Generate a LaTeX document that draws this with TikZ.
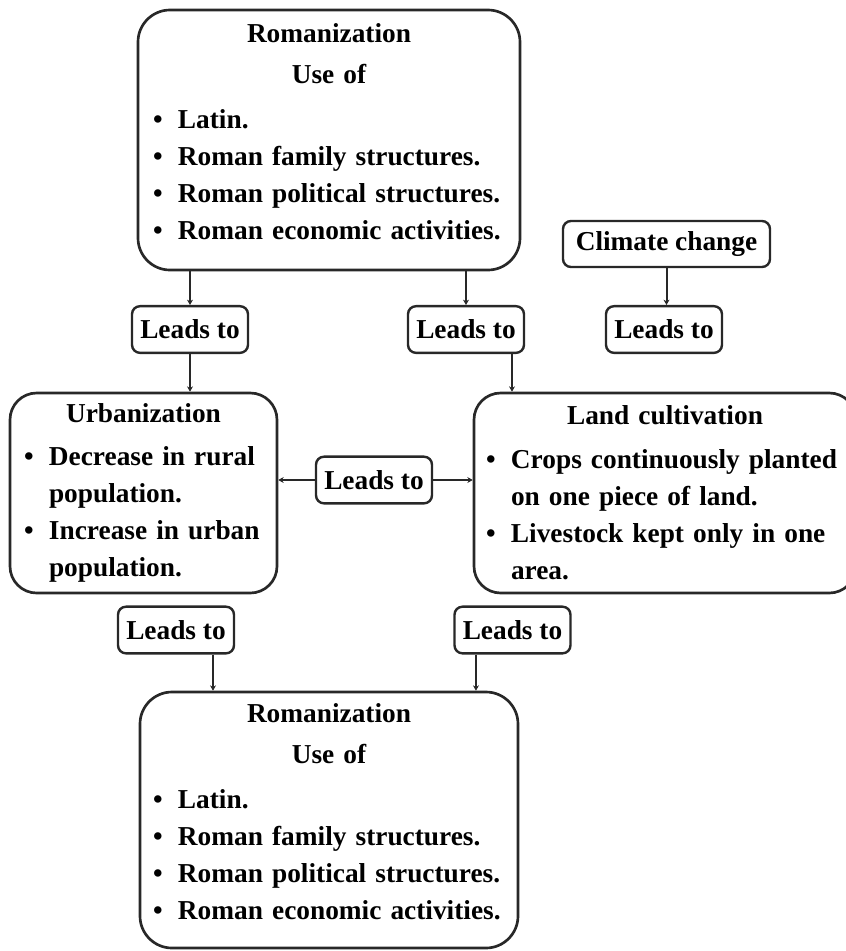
\documentclass[tikz,border=0pt]{standalone}
\usepackage{fontspec}
\setmainfont{Liberation Serif}
\usepackage{xcolor}
\usepackage{tikz}
\usetikzlibrary{arrows.meta,calc}
\definecolor{darkline}{RGB}{40,40,40}
\newcommand{\bul}{\par\noindent\hangindent=18.75pt\hangafter=1\makebox[18.75pt][l]{\textbullet}}
\newcommand{\padbot}[1]{\par\nointerlineskip\vspace{#1}\hbox{}}

\begin{document}
\begin{tikzpicture}[x=0.75pt, y=-0.75pt,
  every node/.style={font=\bfseries\fontsize{20.5}{27.75}\selectfont, text=black},
  bigbox/.style={draw=darkline, line width=2pt, rounded corners=24pt, inner ysep=0pt},
  leadbox/.style={draw=darkline, line width=1.8pt, rounded corners=6pt, inner sep=0pt, minimum width=87pt, minimum height=35pt},
  arr/.style={draw=darkline, line width=1.5pt, -{Stealth[length=4pt,width=4.5pt]}}]
  \useasboundingbox (0,0) rectangle (846,951);
  % boxes
  \node[bigbox, minimum width=286.5pt, minimum height=195pt, text width=264pt, inner xsep=11.25pt] (rom1) at (329,140)
    {\raggedright{\centering Romanization\\[3pt] Use of\par}\vspace{6pt}
     \bul Latin.
     \bul Roman family structures.
     \bul Roman political structures.
     \bul Roman economic activities.
     \padbot{12.75pt}};
  \node[leadbox] (lt1) at (190,329.5) {Leads to};
  \node[leadbox] (lt2) at (466,329.5) {Leads to};
  \node[leadbox, minimum width=155.25pt, minimum height=34.5pt] (clim) at (666.5,244) {Climate change};
  \node[leadbox] (lt3) at (664,329.5) {Leads to};
  \node[bigbox, rounded corners=20pt, minimum width=200.25pt, minimum height=150pt, text width=179.25pt, inner xsep=10.5pt] (urb) at (143.5,493)
    {\raggedright{\centering Urbanization\par}\vspace{5pt}
     \bul Decrease in rural\newline population.
     \bul Increase in urban\newline population.\par};
  \node[bigbox, rounded corners=20pt, minimum width=286.5pt, minimum height=150pt, text width=268.5pt, inner xsep=9pt] (land) at (665,493)
    {\raggedright{\centering Land cultivation\par}\vspace{5pt}
     \bul Crops continuously planted\newline on one piece of land.
     \bul Livestock kept only in one\newline area.\par};
  \node[leadbox] (lm) at (374,480) {Leads to};
  \node[leadbox] (lb1) at (176,630) {Leads to};
  \node[leadbox] (lb2) at (512.5,630) {Leads to};
  \node[bigbox, minimum width=283.5pt, minimum height=192pt, text width=264pt, inner xsep=9.75pt] (rom2) at (329,820)
    {\raggedright{\centering Romanization\\[3pt] Use of\par}\vspace{6pt}
     \bul Latin.
     \bul Roman family structures.
     \bul Roman political structures.
     \bul Roman economic activities.
     \padbot{12.75pt}};
  % connectors
  \draw[arr] (rom1.south -| lt1) -- (lt1.north);
  \draw[arr] (lt1.south) -- (urb.north -| lt1);
  \draw[arr] (rom1.south -| lt2) -- (lt2.north);
  \draw[arr] ([xshift=34.5pt]lt2.south) -- ([xshift=34.5pt]lt2.south |- land.north);
  \draw[arr] (clim.south) -- (clim.south |- lt3.north);
  \draw[arr] (lm.west) -- (lm.west -| urb.east);
  \draw[arr] (lm.east) -- (lm.east -| land.west);
  \draw[arr] ([xshift=27.75pt]lb1.south) -- ([xshift=27.75pt]lb1.south |- rom2.north);
  \draw[arr] ([xshift=-27.4pt]lb2.south) -- ([xshift=-27.4pt]lb2.south |- rom2.north);
\end{tikzpicture}
\end{document}
